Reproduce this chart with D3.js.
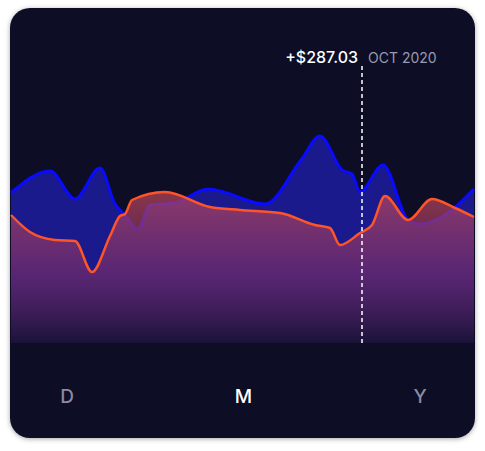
<!DOCTYPE html><html><head><script src="https://cdn.jsdelivr.net/npm/d3@7"></script>
<style>body{margin:0;background:#fff;}svg{display:block}</style></head><body><svg width="485" height="451"></svg>
<script>
const blueX=[0,39,64,89,104,114,127,139,164,197,254,290,309,331,341,349,372,397,409,429,463];
const blueV=[150,172,144,175,139,128,114,138,140,154,139,183,207,173,169,151,178,123,119,125,154];
const orangeX=[0,19,44,64,81,99,109,114,121,154,199,229,269,304,319,329,349,361,374,397,421,444,463];
const orangeV=[128,111,103,102,71,107,127,129,143,151,136,133,130,118,115,98,110,118,147,123,144,135,126];
const tabs=["D","M","Y"];
const tipValue="+$287.03", tipDate="OCT 2020", tipX=351;

const svg=d3.select("svg");
const defs=svg.append("defs");
const f=defs.append("filter").attr("id","sh").attr("x","-10%").attr("y","-10%").attr("width","120%").attr("height","120%");
f.append("feDropShadow").attr("dx",0).attr("dy",1).attr("stdDeviation",2.5).attr("flood-color","#000").attr("flood-opacity",0.35);
const g=defs.append("linearGradient").attr("id","og").attr("gradientUnits","userSpaceOnUse").attr("x1",0).attr("x2",0).attr("y1",190).attr("y2",343);
g.append("stop").attr("offset","0%").attr("stop-color","#c0485a").attr("stop-opacity",0.7);
g.append("stop").attr("offset","55%").attr("stop-color","#7a2c66").attr("stop-opacity",0.65);
g.append("stop").attr("offset","100%").attr("stop-color","#1a1230").attr("stop-opacity",0.9);
defs.append("clipPath").attr("id","cl").append("rect").attr("x",10).attr("y",8).attr("width",465).attr("height",430).attr("rx",20);

svg.append("rect").attr("x",10).attr("y",8).attr("width",465).attr("height",430).attr("rx",20).attr("fill","#0c0d28").attr("filter","url(#sh)");
const root=svg.append("g").attr("clip-path","url(#cl)");
const ox=11;
const x=d3.scaleLinear().domain([0,463]).range([ox,ox+463]);
const y=d3.scaleLinear().domain([0,207]).range([343,136]);
const bd=blueX.map((d,i)=>[d,blueV[i]]), od=orangeX.map((d,i)=>[d,orangeV[i]]);
const area=d3.area().x(d=>x(d[0])).y0(y(0)).y1(d=>y(d[1])).curve(d3.curveMonotoneX);
const line=d3.line().x(d=>x(d[0])).y(d=>y(d[1])).curve(d3.curveMonotoneX);
root.append("path").attr("d",area(bd)).attr("fill","#1a1a8c");
root.append("path").attr("d",line(bd)).attr("fill","none").attr("stroke","#0a0aff").attr("stroke-width",3);
root.append("path").attr("d",area(od)).attr("fill","url(#og)");
root.append("path").attr("d",line(od)).attr("fill","none").attr("stroke","#ff5428").attr("stroke-width",2.5);
root.append("line").attr("x1",x(tipX)).attr("x2",x(tipX)).attr("y1",66).attr("y2",343).attr("stroke","#fff").attr("stroke-width",1.5).attr("stroke-dasharray","4,3");
root.append("text").attr("x",x(tipX)-4).attr("y",63).attr("text-anchor","end").attr("fill","#fff").attr("font-family","Inter, sans-serif").attr("font-weight",500).attr("font-size",16).text(tipValue);
root.append("text").attr("x",x(tipX)+6).attr("y",63).attr("fill","#9a9ab0").attr("font-family","Inter, sans-serif").attr("font-size",14).text(tipDate);
const tx=d3.scalePoint().domain(tabs).range([67,420]);
root.selectAll(".t").data(tabs).enter().append("text").attr("x",d=>tx(d)).attr("y",403).attr("text-anchor","middle")
 .attr("fill",d=>d==="M"?"#fff":"#8a8aa0").attr("font-family","Inter, sans-serif").attr("font-weight",500).attr("font-size",19).text(d=>d);
</script></body></html>
